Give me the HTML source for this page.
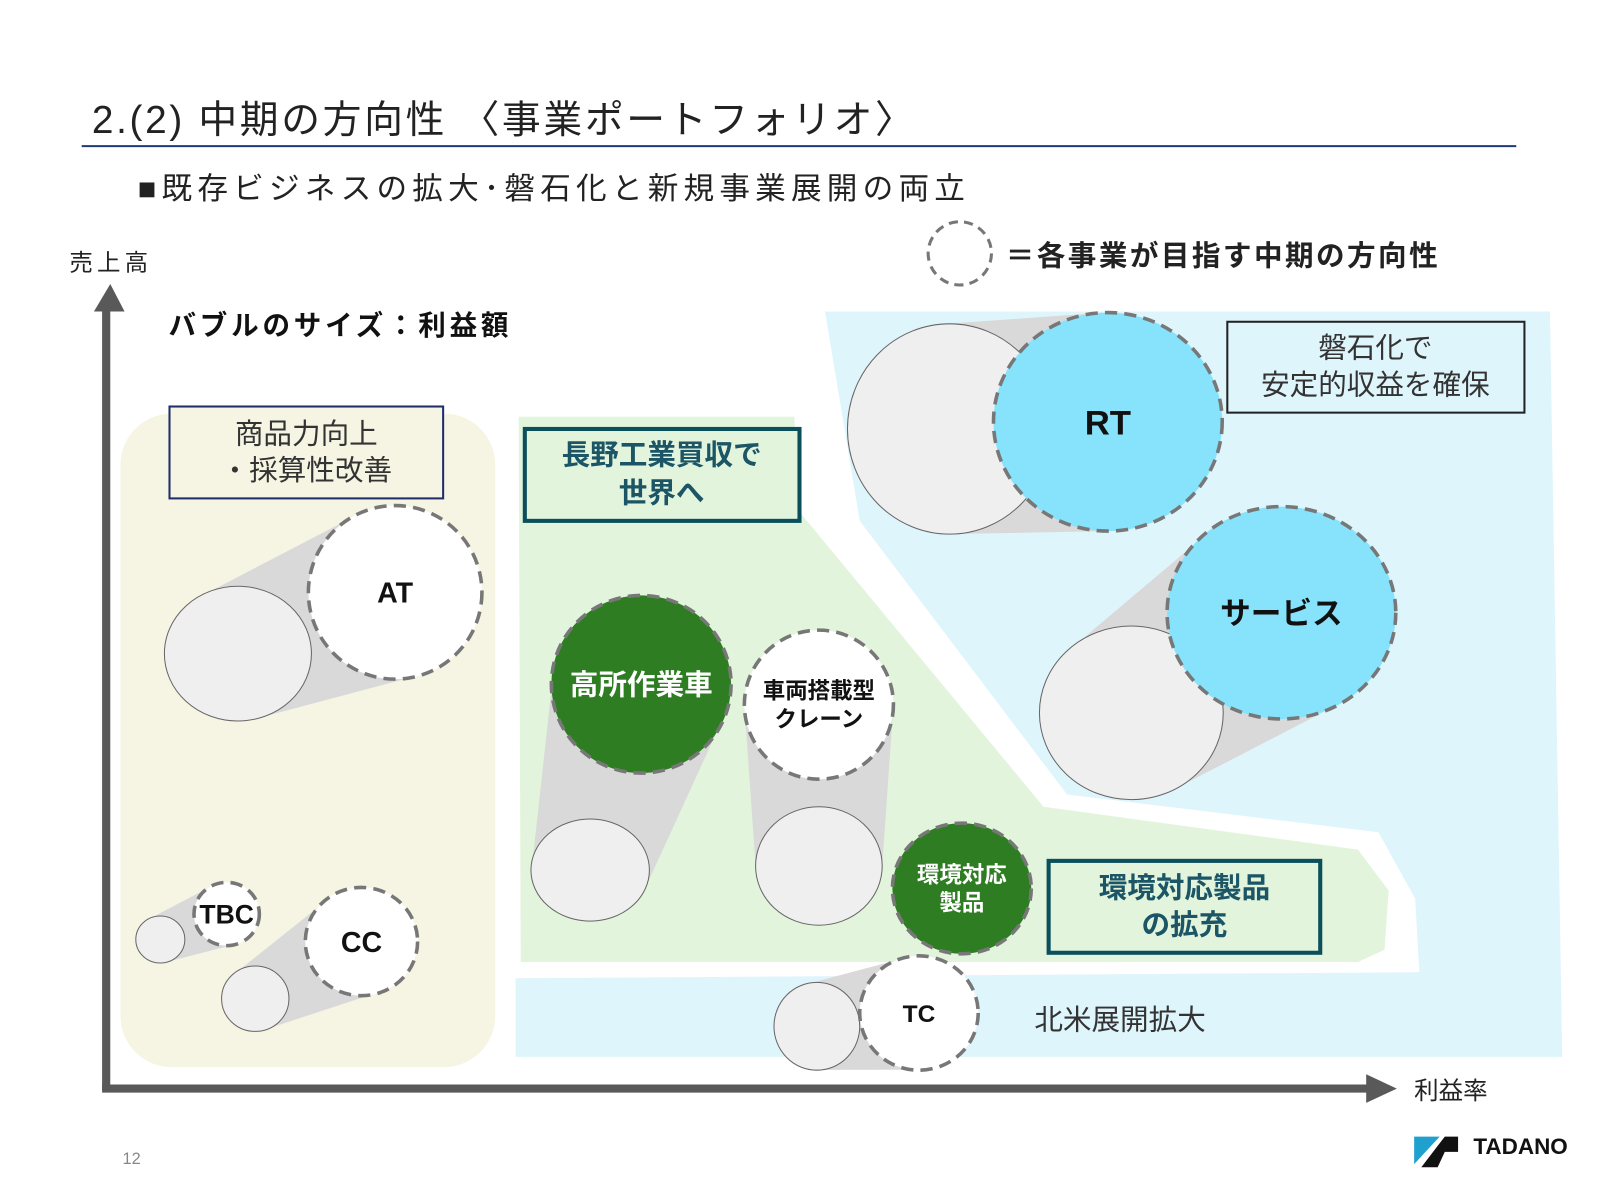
<!DOCTYPE html>
<html><head><meta charset="utf-8"><style>
html,body{margin:0;padding:0;background:#fff;}
svg{display:block;}
text{font-family:"Liberation Sans","Noto Sans CJK JP",sans-serif;}
</style></head><body>
<svg id="s" width="1600" height="1200" viewBox="0 0 1567 1175" xmlns="http://www.w3.org/2000/svg">
<rect width="1567" height="1175" fill="#fff"/>
<text x="90" y="130" font-size="38" fill="#222" textLength="805" lengthAdjust="spacing">2.(2) 中期の方向性 〈事業ポートフォリオ〉</text>
<line x1="80" y1="143" x2="1485" y2="143" stroke="#1f3a7a" stroke-width="2"/>
<text x="135" y="195" font-size="30" fill="#222" textLength="810" lengthAdjust="spacing">■既存ビジネスの拡大･磐石化と新規事業展開の両立</text>
<text x="68" y="265" font-size="23" fill="#222" textLength="77" lengthAdjust="spacing">売上高</text>
<circle cx="940" cy="248" r="31" fill="none" stroke="#777" stroke-width="3" stroke-dasharray="9,6"/>
<text x="985" y="260" font-size="28" font-weight="bold" fill="#222" textLength="423" lengthAdjust="spacing">＝各事業が目指す中期の方向性</text>
<text x="165" y="328" font-size="27" font-weight="bold" fill="#111" textLength="333" lengthAdjust="spacing">バブルのサイズ：利益額</text>

<rect x="118" y="405" width="367" height="640" rx="50" fill="#f6f5e3"/>
<polygon points="808,305 1518,305 1530,1035 505,1035 505,958 1390,952 1386,880 1350,815 1045,778 842,510" fill="#dff5fc"/>
<polygon points="508,408 778,408 782,500 1022,790 1330,832 1360,872 1356,930 1330,942 510,942" fill="#e2f4dc"/>

<g id="sh" fill="#d9d9d9"></g>
<g id="bub"></g>

<line x1="104" y1="1068" x2="104" y2="300" stroke="#595959" stroke-width="8"/>
<polygon points="92,305 108,278 122,305" fill="#595959"/>
<line x1="100" y1="1066" x2="1340" y2="1066" stroke="#595959" stroke-width="8"/>
<polygon points="1338,1052 1368,1066 1338,1080" fill="#595959"/>
<text x="1385" y="1076" font-size="24" fill="#222">利益率</text>

<rect x="166" y="398" width="268" height="90" fill="#f6f5e3" stroke="#1f2d6b" stroke-width="2"/>
<text x="300" y="434" font-size="28" fill="#333" text-anchor="middle">商品力向上</text>
<text x="300" y="470" font-size="28" fill="#333" text-anchor="middle">・採算性改善</text>

<rect x="514" y="420" width="269" height="90" fill="#e2f4dc" stroke="#0b4f5c" stroke-width="4"/>
<text x="648" y="455" font-size="28" font-weight="bold" fill="#1b5566" text-anchor="middle">長野工業買収で</text>
<text x="648" y="492" font-size="28" font-weight="bold" fill="#1b5566" text-anchor="middle">世界へ</text>

<rect x="1202" y="315" width="291" height="89" fill="#dff5fc" stroke="#222" stroke-width="2"/>
<text x="1347" y="350" font-size="28" fill="#333" text-anchor="middle">磐石化で</text>
<text x="1347" y="386" font-size="28" fill="#333" text-anchor="middle">安定的収益を確保</text>

<rect x="1027" y="843" width="266" height="90" fill="#e2f4dc" stroke="#0b4f5c" stroke-width="4"/>
<text x="1160" y="879" font-size="28" font-weight="bold" fill="#1b5566" text-anchor="middle">環境対応製品</text>
<text x="1160" y="915" font-size="28" font-weight="bold" fill="#1b5566" text-anchor="middle">の拡充</text>

<text x="1013" y="1008" font-size="28" fill="#333">北米展開拡大</text>
<text x="120" y="1140" font-size="16" fill="#888">12</text>
<polygon points="1385,1113 1410,1113 1385,1140" fill="#1fa0cf"/>
<polygon points="1415,1113 1428,1113 1428,1128 1415,1128 1408,1143 1392,1143" fill="#111"/>
<text x="1443" y="1130" font-size="22" font-weight="bold" fill="#111">TADANO</text>
</svg>
<script>
var NS="http://www.w3.org/2000/svg";
function el(p,t,a,txt){var e=document.createElementNS(NS,t);for(var k in a)e.setAttribute(k,a[k]);if(txt)e.textContent=txt;document.getElementById(p).appendChild(e);return e;}
var B=[
[233,640,72,66, 387,580,85,85,"#fff",["AT"],28,"#111"],
[157,920,24,23, 222,895,32,31,"#fff",["TBC"],26,"#111"],
[250,978,33,32, 354,922,55,53,"#fff",["CC"],28,"#111"],
[578,852,58,50, 628,670,88,87,"#2e7d22",["高所作業車"],28,"#fff"],
[802,848,62,58, 802,690,73,73,"#fff",["車両搭載型","クレーン"],22,"#111"],
[null,0,0,0, 942,870,68,64,"#2e7d22",["環境対応","製品"],22,"#fff"],
[800,1005,42,43, 900,992,58,56,"#fff",["TC"],24,"#111"],
[930,420,100,103, 1085,413,112,107,"#86e3fb",["RT"],34,"#111"],
[1108,698,90,85, 1255,600,112,104,"#86e3fb",["サービス"],30,"#111"]
];
B.forEach(function(b){
 if(b[0]!==null){
  var dx=b[4]-b[0],dy=b[5]-b[1],L=Math.hypot(dx,dy),nx=-dy/L,ny=dx/L;
  var p=[[b[0]+nx*b[2],b[1]+ny*b[3]],[b[4]+nx*b[6],b[5]+ny*b[7]],[b[4]-nx*b[6],b[5]-ny*b[7]],[b[0]-nx*b[2],b[1]-ny*b[3]]];
  el("sh","polygon",{points:p.map(function(q){return q.join(",")}).join(" ")});
  el("bub","ellipse",{cx:b[0],cy:b[1],rx:b[2],ry:b[3],fill:"#efefef",stroke:"#666","stroke-width":1});
 }
});
B.forEach(function(b){
 el("bub","ellipse",{cx:b[4],cy:b[5],rx:b[6],ry:b[7],fill:b[8],stroke:"#777","stroke-width":3.5,"stroke-dasharray":"12,7"});
 var n=b[9].length,lh=b[10]*1.25;
 b[9].forEach(function(t,i){
  el("bub","text",{x:b[4],y:b[5]+b[10]*0.36+(i-(n-1)/2)*lh,"font-size":b[10],"font-weight":"bold",fill:b[11],"text-anchor":"middle"},t);
 });
});
</script>
</body></html>
